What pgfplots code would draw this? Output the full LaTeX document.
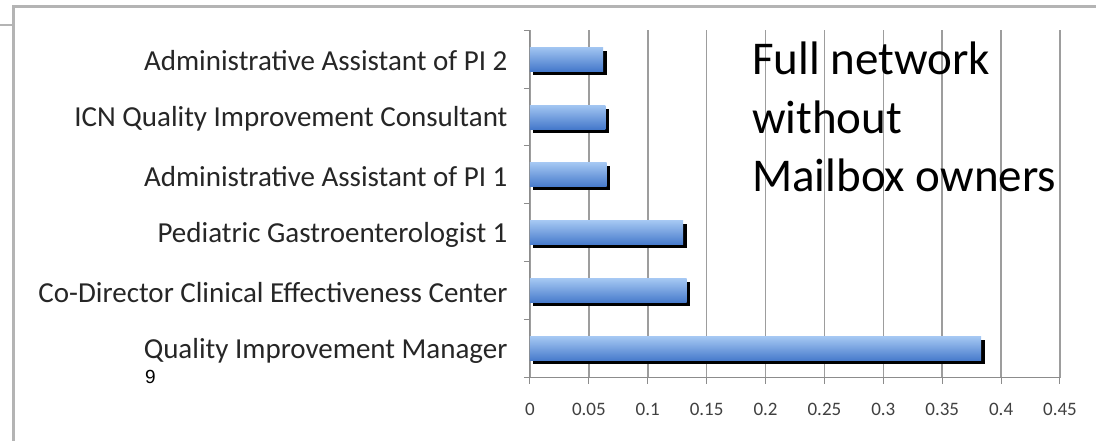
\documentclass[border=0pt]{standalone}
\usepackage{pgfplots}
\pgfplotsset{compat=1.18}
\usepackage{fontspec}
\setmainfont{Carlito}
\newfontfamily\arialfont{Liberation Sans}
\definecolor{bartop}{HTML}{A3C6F2}
\definecolor{barmid}{HTML}{6C9FE4}
\definecolor{barbot}{HTML}{4579CB}
\definecolor{gridc}{HTML}{8C8C8C}
\definecolor{framec}{HTML}{B4B4B4}
\definecolor{labc}{HTML}{262626}
\definecolor{tickc}{HTML}{404040}
\pgfplotsset{
  myshadow/.style={xbar, bar shift=0pt, bar width=24pt, draw=none, fill=black,
    transform canvas={xshift=3.5pt, yshift=-3.5pt}},
  mybar/.style={xbar, bar shift=0pt, bar width=24pt, draw=none,
    top color=bartop, middle color=barmid, bottom color=barbot}
}
\begin{document}
\begin{tikzpicture}[x=1pt,y=1pt]
\useasboundingbox (0,0) rectangle (1096,441);
\fill[white] (0,0) rectangle (1096,441);
\draw[framec, line width=3pt] (13,-2) -- (13,434) -- (1100,434);
\draw[framec, line width=2pt] (-2,416) -- (13,416);
\begin{axis}[
  at={(530pt,63pt)}, anchor=south west,
  scale only axis, width=530pt, height=348pt,
  xmin=0, xmax=0.45, ymin=-0.5, ymax=5.5,
  axis x line*=bottom, axis y line*=left,
  axis line style={gridc, line width=1pt},
  xtick={0,0.05,...,0.46},
  xticklabels={0,0.05,0.1,0.15,0.2,0.25,0.3,0.35,0.4,0.45},
  xmajorgrids, major grid style={gridc!85, line width=1.5pt},
  tick align=outside, major tick length=6pt,
  tick style={gridc, line width=1pt},
  xticklabel style={font=\fontsize{19}{20}\selectfont, text=tickc, yshift=-16pt},
  ytick={-0.5,0.5,...,5.6}, yticklabels={},
  extra y ticks={0,1,2,3,4,5},
  extra y tick labels={Quality Improvement Manager,
    Co-Director Clinical Effectiveness Center,
    Pediatric Gastroenterologist 1,
    Administrative Assistant of PI 1,
    ICN Quality Improvement Consultant,
    Administrative Assistant of PI 2},
  extra y tick style={tick style={draw=none},
    yticklabel style={font=\fontsize{29}{30}\selectfont, text=labc, xshift=-13pt, yshift=-2pt}},
  clip=false,
]
% shadows
\addplot[myshadow] coordinates {(0.383,0)};
\addplot[myshadow] coordinates {(0.133,1)};
\addplot[myshadow] coordinates {(0.130,2)};
\addplot[myshadow] coordinates {(0.065,3)};
\addplot[myshadow] coordinates {(0.064,4)};
\addplot[myshadow] coordinates {(0.062,5)};
% bars
\addplot[mybar] coordinates {(0.383,0)};
\addplot[mybar] coordinates {(0.133,1)};
\addplot[mybar] coordinates {(0.130,2)};
\addplot[mybar] coordinates {(0.065,3)};
\addplot[mybar] coordinates {(0.064,4)};
\addplot[mybar] coordinates {(0.062,5)};
\end{axis}
\node[anchor=base west, inner sep=0pt, font=\fontsize{47}{50}\selectfont] at (752,366) {Full network};
\node[anchor=base west, inner sep=0pt, font=\fontsize{47}{50}\selectfont] at (752,307) {without};
\node[anchor=base west, inner sep=0pt, font=\fontsize{47}{50}\selectfont] at (752,249) {Mailbox owners};
\node[anchor=base west, inner sep=0pt, font=\arialfont\fontsize{19}{20}\selectfont] at (145,57) {9};
\end{tikzpicture}
\end{document}
